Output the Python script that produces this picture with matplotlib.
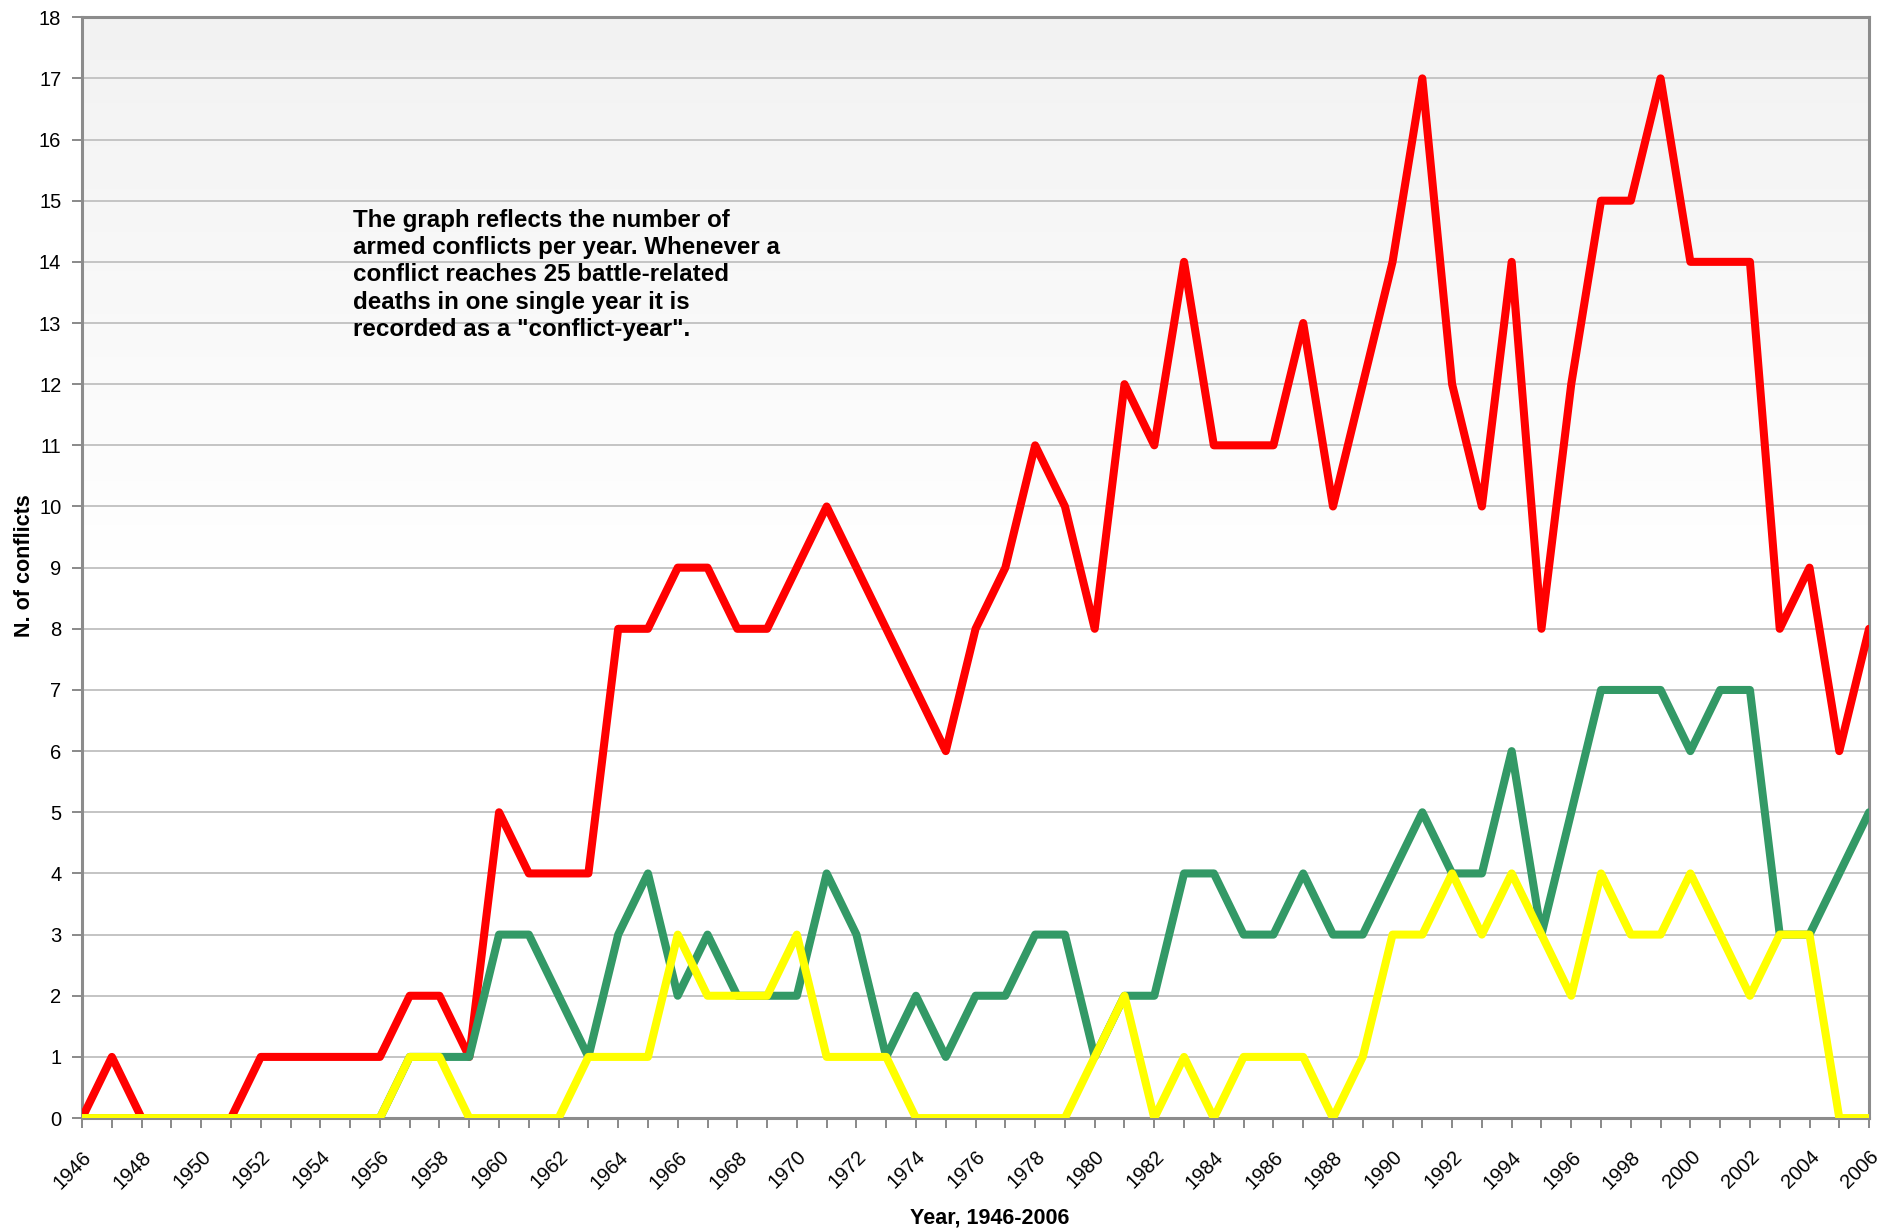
import numpy as np
import matplotlib.pyplot as plt
from matplotlib.colors import LinearSegmentedColormap

plt.rcParams['font.family'] = ['Liberation Sans', 'DejaVu Sans']

years = list(range(1946, 2007))

# conflicts per year
red_vals = [0, 1, 0, 0, 0, 0, 1, 1, 1, 1, 1, 2, 2, 1, 5, 4, 4, 4, 8, 8,
            9, 9, 8, 8, 9, 10, 9, 8, 7, 6, 8, 9, 11, 10, 8, 12, 11, 14, 11, 11,
            11, 13, 10, 12, 14, 17, 12, 10, 14, 8, 12, 15, 15, 17, 14, 14, 14, 8, 9, 6,
            8]
green_vals = [0, 0, 0, 0, 0, 0, 0, 0, 0, 0, 0, 1, 1, 1, 3, 3, 2, 1, 3, 4,
              2, 3, 2, 2, 2, 4, 3, 1, 2, 1, 2, 2, 3, 3, 1, 2, 2, 4, 4, 3,
              3, 4, 3, 3, 4, 5, 4, 4, 6, 3, 5, 7, 7, 7, 6, 7, 7, 3, 3, 4,
              5]
yellow_vals = [0, 0, 0, 0, 0, 0, 0, 0, 0, 0, 0, 1, 1, 0, 0, 0, 0, 1, 1, 1,
               3, 2, 2, 2, 3, 1, 1, 1, 0, 0, 0, 0, 0, 0, 1, 2, 0, 1, 0, 1,
               1, 1, 0, 1, 3, 3, 4, 3, 4, 3, 2, 4, 3, 3, 4, 3, 2, 3, 3, 0,
               0]

note = ('The graph reflects the number of\n'
        'armed conflicts per year. Whenever a\n'
        'conflict reaches 25 battle-related\n'
        'deaths in one single year it is\n'
        'recorded as a "conflict-year".')

fig = plt.figure(figsize=(18.87, 12.30), dpi=100)
ax = fig.add_axes([0.0435, 0.091, 0.9470, 0.895])

# light gray to white background gradient
cmap = LinearSegmentedColormap.from_list('bg', ['#ffffff', '#ffffff', '#f2f2f2'])
grad = np.linspace(0, 1, 256).reshape(-1, 1)
ax.imshow(grad, extent=[1946, 2006, 0, 18], aspect='auto', cmap=cmap,
          origin='lower', zorder=0)

ax.set_xlim(1946, 2006)
ax.set_ylim(0, 18)

ax.set_yticks(range(0, 19))
ax.yaxis.grid(True, color='#c4c4c4', linewidth=1.4, zorder=1)
ax.set_axisbelow(True)

lw = 5.8
style = dict(linewidth=lw, solid_joinstyle='round', solid_capstyle='round')
ax.plot(years, red_vals, color='#ff0000', zorder=3, **style)
ax.plot(years, green_vals, color='#339966', zorder=4, **style)
ax.plot(years, yellow_vals, color='#ffff00', zorder=5, **style)

ax.set_xticks(years)
ax.set_xticklabels([str(y) if (y - 1946) % 2 == 0 else '' for y in years],
                   rotation=45, ha='right', va='top', rotation_mode='anchor')
ax.tick_params(axis='x', length=7, width=1.3, color='#808080', labelsize=14.5, pad=14)
ax.tick_params(axis='y', length=7, width=1.3, color='#808080', labelsize=14.5, pad=8)

for s in ax.spines.values():
    s.set_color('#8c8c8c')
    s.set_linewidth(2.2)

ax.set_ylabel('N. of conflicts', fontsize=15.5, fontweight='bold')
ax.set_xlabel('Year, 1946-2006', fontsize=15.5, fontweight='bold')
ax.yaxis.set_label_coords(-0.0262, 0.502)
ax.xaxis.set_label_coords(0.508, -0.081)

ax.text(0.1515, 0.826, note, transform=ax.transAxes, fontsize=17.4, fontweight='bold',
        va='top', ha='left', linespacing=1.24, zorder=6)

fig.savefig('out.png', dpi=100)
